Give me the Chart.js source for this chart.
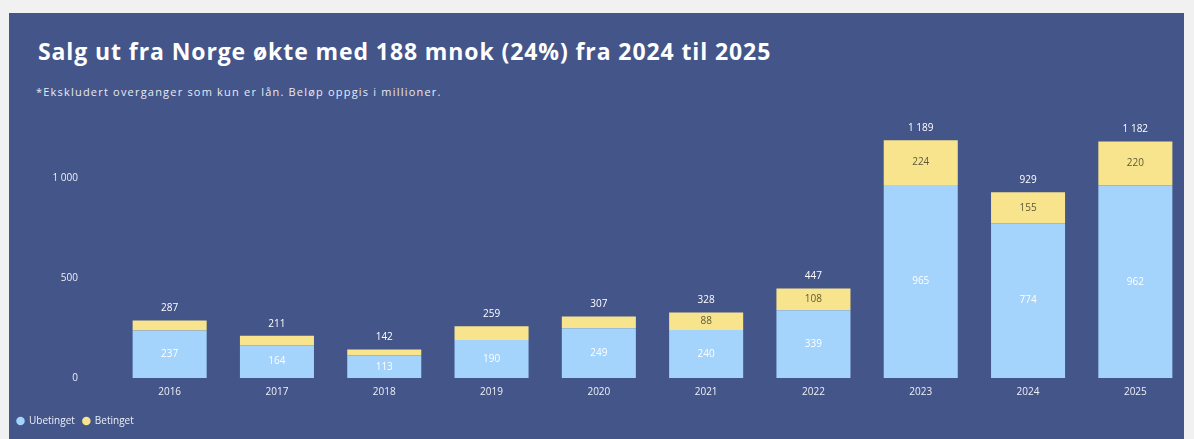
<!DOCTYPE html>
<html>
<head>
<meta charset="utf-8">
<script src="https://cdn.jsdelivr.net/npm/chart.js@4.4.0/dist/chart.umd.min.js"></script>
<style>
  html, body { margin: 0; padding: 0; }
  body { width: 1194px; height: 439px; background: #f1f1f1; position: relative; overflow: hidden; font-family: "Open Sans", "Noto Sans", sans-serif; }
  #panel { position: absolute; left: 9px; top: 13px; width: 1175px; height: 426px; background: #44558a; }
  #title { position: absolute; left: 38px; top: 35px; color: #ffffff; font-weight: 700; font-size: 23px; letter-spacing: 0.9px; white-space: nowrap; }
  #sub { position: absolute; left: 36px; top: 84px; color: #e8ebf3; font-size: 11px; letter-spacing: 1.2px; white-space: nowrap; }
  #wrap { position: absolute; left: 0; top: 0; width: 1194px; height: 439px; }
</style>
</head>
<body>
<div id="panel"></div>
<div id="title">Salg ut fra Norge økte med 188 mnok (24%) fra 2024 til 2025</div>
<div id="sub">*Ekskludert overganger som kun er lån. Beløp oppgis i millioner.</div>
<div id="wrap"><canvas id="c"></canvas></div>
<script>
// data (mnok)
const years = ['2016','2017','2018','2019','2020','2021','2022','2023','2024','2025'];
const ubetinget = [237, 164, 113, 190, 249, 240, 339, 965, 774, 962];
const betinget = [50, 47, 29, 69, 58, 88, 108, 224, 155, 220];
const yTicks = [0, 500, 1000];

const fmt = v => String(v).replace(/\B(?=(\d{3})+(?!\d))/g, '\u00a0');

// draws the value labels: inside bars and totals on top
const valueLabels = {
  id: 'valueLabels',
  afterDatasetsDraw(chart) {
    const ctx = chart.ctx;
    const m0 = chart.getDatasetMeta(0);
    const m1 = chart.getDatasetMeta(1);
    ctx.save();
    ctx.textAlign = 'center';
    ctx.textBaseline = 'middle';
    ctx.font = '10px "Open Sans", sans-serif';
    years.forEach((y, i) => {
      const b0 = m0.data[i], b1 = m1.data[i];
      // ubetinget, white in the middle
      ctx.fillStyle = '#ffffff';
      ctx.fillText(fmt(ubetinget[i]), b0.x, (b0.y + b0.base) / 2);
      // betinget only when the segment is tall enough
      if (b1.base - b1.y > 16) {
        ctx.fillStyle = '#5e5a3a';
        ctx.fillText(fmt(betinget[i]), b1.x, (b1.y + b1.base) / 2);
      }
      // total above
      ctx.fillStyle = '#ffffff';
      ctx.fillText(fmt(ubetinget[i] + betinget[i]), b1.x, b1.y - 12);
    });
    ctx.restore();
  }
};

new Chart(document.getElementById('c'), {
  type: 'bar',
  data: {
    labels: years,
    datasets: [
      { label: 'Ubetinget', data: ubetinget, backgroundColor: '#a4d3fb', borderWidth: 0 },
      { label: 'Betinget', data: betinget, backgroundColor: '#f8e48c', borderWidth: 0 }
    ]
  },
  options: {
    responsive: true,
    maintainAspectRatio: false,
    animation: false,
    layout: { padding: { top: 118, left: 9, right: 5, bottom: 3 } },
    datasets: { bar: { categoryPercentage: 1, barPercentage: 0.69 } },
    scales: {
      x: {
        stacked: true,
        afterFit(s) { s.height += 10; },
        grid: { display: false },
        border: { display: false },
        ticks: { color: '#eef0f6', padding: 0, font: { size: 10, family: '"Open Sans", sans-serif' } }
      },
      y: {
        stacked: true,
        min: 0,
        max: 1300,
        afterFit(s) { s.width = 107; },
        afterBuildTicks(s) { s.ticks = yTicks.map(v => ({ value: v })); },
        grid: { display: false },
        border: { display: false },
        ticks: {
          color: '#eef0f6',
          padding: 30,
          font: { size: 10, family: '"Open Sans", sans-serif' },
          callback: v => fmt(v)
        }
      }
    },
    plugins: {
      legend: {
        position: 'bottom',
        align: 'start',
        labels: {
          color: '#eef0f6',
          usePointStyle: true,
          pointStyle: 'circle',
          boxWidth: 7,
          boxHeight: 6,
          padding: 8,
          font: { size: 10, family: '"Open Sans", sans-serif' }
        }
      },
      tooltip: { enabled: false }
    }
  },
  plugins: [valueLabels]
});
</script>
</body>
</html>
